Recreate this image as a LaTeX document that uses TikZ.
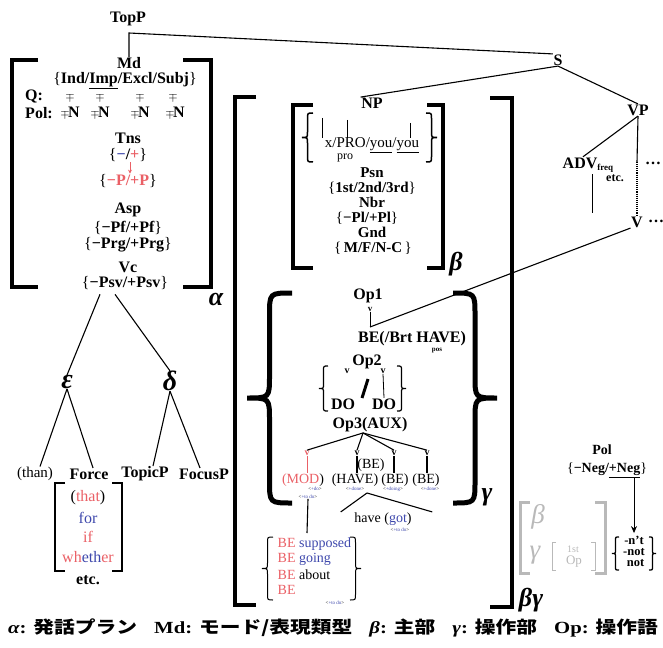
\documentclass[tikz,border=0pt]{standalone}
\usepackage{fontspec}
\setmainfont{Liberation Serif}
\newfontfamily\jpfont{Noto Sans CJK JP}
\usetikzlibrary{arrows.meta}

\definecolor{hlred}{RGB}{234,96,102}
\definecolor{hlblue}{RGB}{62,72,172}
\definecolor{softgray}{RGB}{185,185,185}

\newcommand{\bopen}{{\mdseries\color{black}\{}}
\newcommand{\bclose}{{\mdseries\color{black}\}}}
\newcommand{\tg}[1]{<{\color{hlblue}#1}>}
% curly brace: x of tip, top, bottom, width (negative = right brace)
\newcommand{\curly}[5][]{%
  \draw[#1] ({#2+(#5)},#3) .. controls ({#2+(#5)/2},#3) .. ({#2+(#5)/2},{#3+abs(#5)/2})
  -- ({#2+(#5)/2},{(#3+#4)/2-abs(#5)/2}) .. controls ({#2+(#5)/2},{(#3+#4)/2}) .. (#2,{(#3+#4)/2})
  .. controls ({#2+(#5)/2},{(#3+#4)/2}) .. ({#2+(#5)/2},{(#3+#4)/2+abs(#5)/2})
  -- ({#2+(#5)/2},{#4-abs(#5)/2}) .. controls ({#2+(#5)/2},#4) .. ({#2+(#5)},#4);}

\tikzset{
  catlab/.style={inner sep=0.5pt, font=\fontsize{16}{16}\selectfont\bfseries},
  nplab/.style={inner sep=0pt, font=\fontsize{15}{15}\selectfont\bfseries},
  plainlab/.style={inner sep=0.5pt, font=\fontsize{14}{14}\selectfont},
  smalllab/.style={inner sep=0.3pt, font=\fontsize{10}{10}\selectfont\bfseries},
  greeklab/.style={inner sep=0pt, font=\fontsize{26}{26}\selectfont\bfseries\itshape},
  taglab/.style={inner sep=0pt, font=\fontsize{5}{5}\selectfont},
  treeline/.style={line width=1.1pt},
  sqbrack/.style={line width=3.4pt},
}

\begin{document}
\begin{tikzpicture}[x=1pt,y=-1pt]
\useasboundingbox (0,0) rectangle (663,647);

% blocco alpha
\node[catlab] (topp) at (128,19) {TopP};
\node[catlab, inner sep=0pt] (md) at (129,63) {Md};
\node[catlab, inner sep=0pt] (mdval) at (125,81) {\bopen Ind/\underline{Imp}/Excl/Subj\bclose};
\node[catlab] (qlab) at (34,97) {Q:};
\foreach \x [count=\i] in {70,100,140,173}
  \node[inner sep=0pt, font=\fontsize{13}{13}\selectfont] (q\i) at (\x,98) {$\mp$};
\node[catlab] (pollab) at (39,113) {Pol:};
\foreach \x [count=\i] in {70,100,140,175}
  \node[catlab, inner sep=0pt] (p\i) at (\x,113) {{\fontsize{12}{12}\selectfont$\mp$}\kern-1.5pt N};

\node[catlab] (tns) at (128,138) {Tns};
\node[catlab] (tnsval) at (128,155) {\bopen{\color{hlblue}−}/{\color{hlred}+}\bclose};
\node[catlab, text=hlred] (tnsp) at (128,181) {\bopen−P/+P\bclose};
\draw[-{Stealth[length=4pt,width=4pt]}, hlred, line width=0.7pt] ([xshift=2pt]tnsval.south) -- ([xshift=2pt]tnsp.north);

\node[catlab] (asp) at (128,210) {Asp};
\node[catlab] (aspa) at (128,228) {\bopen−Pf/+Pf\bclose};
\node[catlab] (aspb) at (128,245) {\bopen−Prg/+Prg\bclose};
\node[catlab] (vc) at (128,267) {Vc};
\node[catlab] (vcval) at (125,283) {\bopen−Psv/+Psv\bclose};

\draw[sqbrack] (38,60) -- (12,60) -- (12,287) -- (38,287);
\draw[sqbrack] (183,60) -- (211,60) -- (211,287) -- (183,287);
\node[greeklab] (alpha) at (216,299) {α};

% epsilon e delta
\node[greeklab, font=\fontsize{28}{28}\selectfont\bfseries\itshape] (eps) at (67,382) {ε};
\node[greeklab, font=\fontsize{28}{28}\selectfont\bfseries\itshape] (delta) at (170,381) {δ};
\draw[treeline] ([xshift=-25pt,yshift=-4pt]vcval.south) -- (eps.north);
\draw[treeline] ([xshift=-10pt,yshift=-4pt]vcval.south) -- (delta.north);

\node[plainlab, font=\fontsize{15}{15}\selectfont] (than) at (35,474) {(than)};
\node[catlab] (force) at (89,474) {Force};
\node[catlab] (topicp) at (145,474) {TopicP};
\node[catlab] (focusp) at (204,474) {FocusP};
\draw[treeline] (eps.south) -- ([xshift=5pt]than.north);
\draw[treeline] (eps.south) -- ([xshift=4pt]force.north);
\draw[treeline] (delta.south) -- ([xshift=8pt]topicp.north);
\draw[treeline] (delta.south) -- ([xshift=-4pt]focusp.north);

\draw[line width=2.2pt] (65,483) -- (55,483) -- (55,571) -- (65,571);
\draw[line width=2.2pt] (112,483) -- (122,483) -- (122,571) -- (112,571);
\node[plainlab, font=\fontsize{16}{16}\selectfont] (that) at (88,498) {({\color{hlred}that})};
\node[plainlab, font=\fontsize{16}{16}\selectfont, text=hlblue] (for) at (88,518) {for};
\node[plainlab, font=\fontsize{16}{16}\selectfont, text=hlred] (if) at (88,537) {if};
\node[plainlab, font=\fontsize{16}{16}\selectfont] (whether) at (88,557)
  {{\color{hlred}wh}{\color{hlblue}eth}{\color{hlred}er}};
\node[catlab] (etc) at (88,580) {etc.};

% blocco beta gamma
\draw[sqbrack] (256,97) -- (235,97) -- (235,605) -- (256,605);
\draw[sqbrack] (490,98) -- (512,98) -- (512,607) -- (490,607);
\node[greeklab] (bg) at (531,600) {βγ};

\node[catlab] (s) at (558,60) {S};
\coordinate (tpknee) at (129,33);
\draw[treeline] (md.north) -- (tpknee) -- (s.north west);

% NP
\draw[sqbrack] (313,105) -- (293,105) -- (293,268) -- (313,268);
\draw[sqbrack] (427,105) -- (443,105) -- (443,268) -- (427,268);
\node[greeklab] (beta) at (456,264) {β};
\node[catlab] (np) at (372,103) {NP};
\curly[line width=1.5pt]{302}{113}{162}{11}
\curly[line width=1.5pt]{437}{113}{162}{-11}
\node[plainlab, font=\fontsize{15}{15}\selectfont] (pronoun) at (372,145) {x/PRO/\underline{you}/\underline{you}};
\node[plainlab, font=\fontsize{12}{12}\selectfont] (pro) at (345,158) {pro};
\draw[line width=0.8pt] (322,118) -- (322,138);
\draw[line width=0.8pt] (347,120) -- (347,138);
\draw[line width=0.8pt] (410,123) -- (410,138);
\node[nplab] (psn) at (372,173) {Psn};
\node[nplab] (psnval) at (372,188) {\bopen 1st/2nd/3rd\bclose};
\node[nplab] (nbr) at (372,202) {Nbr};
\node[nplab] (nbrval) at (367,218) {\bopen−Pl/+Pl\bclose};
\node[nplab] (gnd) at (372,232) {Gnd};
\node[nplab] (gndval) at (373,248) {\bopen\,M/F/N-C\,\bclose};
\draw[treeline] (s.south) -- (np.north west);

% VP
\node[catlab] (vp) at (638,110) {VP};
\draw[treeline] (s.south) -- (vp.north);
\node[catlab, anchor=west] (adv) at (562,165) {ADV{\fontsize{9}{9}\selectfont\raisebox{-2.5pt}{freq}}};
\node[smalllab, font=\fontsize{12}{12}\selectfont\bfseries] (advetc) at (615,178) {etc.};
\draw[line width=0.8pt] (592,174) -- (592,213);
\coordinate (vpmid) at (637,162);
\node[catlab] (v) at (637,222) {V};
\node[catlab] (vdots) at (656,221) {…};
\node[catlab] (vpdots) at (653,163) {…};
\draw[treeline] (vp.south) -- ([xshift=-5pt]adv.north);
\draw[treeline] (vp.south) -- (vpmid);
\draw[treeline, densely dotted] (vpmid) -- (v.north);

% operatori
\curly[line width=5pt]{247}{293}{503}{45}
\curly[line width=5pt]{497}{293}{503}{-44}
\node[greeklab] (gamma) at (487,497) {γ};

\node[catlab] (op1) at (368,296) {Op1};
\node[smalllab, font=\fontsize{9}{9}\selectfont\bfseries] (op1v) at (370,309) {v};
\coordinate (op1foot) at (370,327);
\draw[line width=0.8pt] (op1v.south) -- (op1foot);
\draw[treeline] (v.south west) -- (op1foot);
\node[catlab] (be) at (412,339) {BE(/Brt HAVE)};
\node[plainlab, font=\fontsize{7}{7}\selectfont\bfseries] (pos) at (437,351) {pos};

\node[catlab] (op2) at (367,362) {Op2};
\node[smalllab] (op2va) at (347,371) {v};
\node[smalllab] (op2vb) at (383,371) {v};
\node[catlab] (doa) at (343,404) {DO};
\node[catlab] (dob) at (384,404) {DO};
\draw[line width=3pt] (368,379) -- (362,398);
\draw[line width=0.8pt] (op2vb.south) -- (dob.north);
\curly[line width=1.2pt]{319}{366}{411}{9}
\curly[line width=1.2pt]{406}{366}{411}{-9}
\node[catlab] (op3) at (370,425) {Op3(AUX)};

% figli di Op3
\node[smalllab, text=hlred] (vmod) at (307,453) {v};
\node[smalllab] (vhave) at (357,453) {v};
\node[smalllab] (vbea) at (394,453) {v};
\node[smalllab] (vbeb) at (427,453) {v};
\foreach \n in {vmod,vhave,vbea,vbeb}
  \draw[treeline] ([xshift=-7pt]op3.south) -- (\n.north);
\node[plainlab] (mod) at (303,480) {{\color{hlred}(MOD}{)}};
\node[plainlab] (have) at (355,480) {(HAVE)};
\node[plainlab] (bea) at (395,480) {(BE)};
\node[plainlab] (beb) at (426,480) {(BE)};
\node[plainlab] (hbe) at (371,465) {(BE)};
\draw[hlred, line width=0.9pt] (vmod.south) -- ([xshift=4pt]mod.north);
\draw[line width=1.1pt] (vhave.south) -- ([xshift=2pt]have.north);
\draw[line width=1.1pt] (vbea.south) -- ([xshift=-1pt]bea.north);
\draw[line width=1.1pt] (vbeb.south) -- ([xshift=1pt]beb.north);
\node[taglab] (tmod) at (315,489) {\tg{+do}};
\node[taglab] (tmodb) at (308,497) {\tg{+to do}};
\node[taglab] (thave) at (355,489) {\tg{+done}};
\node[taglab] (tbea) at (393,489) {\tg{+doing}};
\node[taglab] (tbeb) at (430,489) {\tg{+done}};

\coordinate (gotapex) at (367,493);
\node[plainlab] (got) at (383,519) {have ({\color{hlblue}got})};
\node[taglab] (tgot) at (400,530) {\tg{+to do}};
\draw[treeline] (gotapex) -- ([xshift=-13pt]got.north west);
\draw[treeline] (gotapex) -- ([xshift=20pt]got.north east);

% lista BE
\draw[treeline] (tmodb.south) -- (307,533);
\curly[line width=1pt]{262}{537}{600}{11}
\curly[line width=1pt]{361}{537}{600}{-11}
\node[plainlab, anchor=west] (bea1) at (277,544) {{\color{hlred}BE} {\color{hlblue}supposed}};
\node[plainlab, anchor=west] (bea2) at (277,559) {{\color{hlred}BE} {\color{hlblue}going}};
\node[plainlab, anchor=west] (bea3) at (277,575) {{\color{hlred}BE} about};
\node[plainlab, anchor=west] (bea4) at (277,590) {{\color{hlred}BE}};
\node[taglab] (tbe) at (335,603) {\tg{+to do}};

% polarita
\node[catlab, font=\fontsize{14}{14}\selectfont\bfseries] (pol) at (602,450) {Pol};
\node[catlab, font=\fontsize{14}{14}\selectfont\bfseries] (polval) at (607,470) {\bopen−Neg/\underline{+Neg}\bclose};
\node[catlab, font=\fontsize{12.5}{11}\selectfont\bfseries, align=center] (neg) at (634,551) {-n't\\-not\\\ not};
\draw[-{Stealth[length=7pt,width=6pt]}, line width=1pt] ([xshift=27pt]polval.south) -- ([yshift=2pt]neg.north);
\curly[line width=1.3pt]{612}{537}{570}{7}
\curly[line width=1.3pt]{656}{537}{570}{-7}

\draw[softgray, line width=3pt] (530,502) -- (520,502) -- (520,573) -- (530,573);
\draw[softgray, line width=3pt] (595,502) -- (605,502) -- (605,573) -- (595,573);
\node[greeklab, text=softgray, font=\fontsize{27}{27}\selectfont\itshape] (gbeta) at (538,517) {β};
\node[greeklab, text=softgray, font=\fontsize{27}{27}\selectfont\itshape] (ggamma) at (535,555) {γ};
\draw[softgray, line width=0.9pt] (556,542) -- (552,542) -- (552,570) -- (556,570);
\draw[softgray, line width=0.9pt] (591,542) -- (595,542) -- (595,570) -- (591,570);
\node[plainlab, text=softgray, font=\fontsize{10}{10}\selectfont] (gst) at (573,549) {1st};
\node[plainlab, text=softgray, font=\fontsize{13}{13}\selectfont] (gop) at (574,562) {Op};

% legenda
\node[inner sep=0pt, font=\fontsize{17}{17}\selectfont\bfseries] (legend) at (333,628)
  {\scalebox{1.22}[1]{{\itshape α}: {\jpfont 発話プラン}\hspace{14pt}Md: {\jpfont モード/表現類型}\hspace{14pt}%
   {\itshape β}: {\jpfont 主部}\hspace{14pt}{\itshape γ}: {\jpfont 操作部}\hspace{14pt}Op: {\jpfont 操作語}}};

\end{tikzpicture}
\end{document}
